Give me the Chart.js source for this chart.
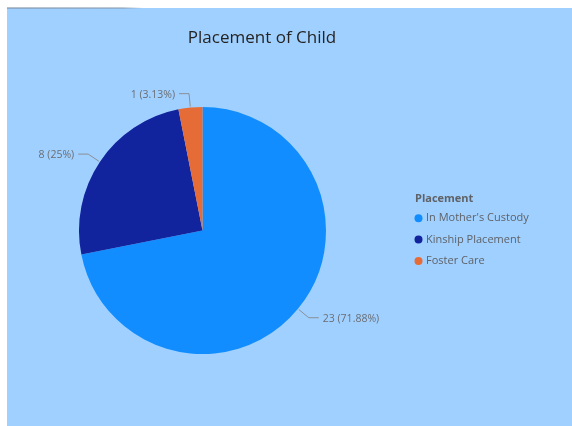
<!DOCTYPE html>
<html>
<head>
<meta charset="utf-8">
<script src="https://cdn.jsdelivr.net/npm/chart.js@4.4.1/dist/chart.umd.min.js"></script>
<style>
  html, body { margin: 0; padding: 0; background: #ffffff; }
  #panel {
    position: absolute; left: 7px; top: 8px; width: 565px; height: 418px;
    background: #a0d0ff;
  }
  #shade {
    position: absolute; left: 7px; top: 7px; width: 136px; height: 2px;
    background: linear-gradient(to right, rgba(120,140,160,0.55), rgba(120,140,160,0.45) 85%, rgba(120,140,160,0));
  }
  #placementChart { position: absolute; left: 0; top: 0; }
</style>
</head>
<body>
<div id="panel">
  <canvas id="placementChart" width="565" height="418"></canvas>
</div>
<div id="shade"></div>
<script>
// Chart data
const categories = ["In Mother's Custody", 'Kinship Placement', 'Foster Care'];
const counts = [23, 8, 1];
const sliceColors = ['#118dff', '#12239e', '#e66c37'];
const chartTitle = 'Placement of Child';
const legendTitle = 'Placement';

const fontFamily = '"Open Sans", "Noto Sans", sans-serif';

// Format like "23 (71.88%)"
function labelText(value, total) {
    const pct = parseFloat((value / total * 100).toFixed(2));
    return value + ' (' + pct + '%)';
}

// Draws the title, the leader-line data labels and the right-hand legend
const powerBiDecor = {
    id: 'powerBiDecor',
    afterDatasetsDraw(chart) {
        const ctx = chart.ctx;
        const meta = chart.getDatasetMeta(0);
        const values = chart.data.datasets[0].data;
        const total = values.reduce((a, b) => a + b, 0);

        ctx.save();
        ctx.font = '10.5px ' + fontFamily;
        ctx.textBaseline = 'middle';
        meta.data.forEach((arc, i) => {
            const { x, y, startAngle, endAngle, outerRadius } =
                arc.getProps(['x', 'y', 'startAngle', 'endAngle', 'outerRadius'], true);
            const mid = (startAngle + endAngle) / 2;
            const cos = Math.cos(mid), sin = Math.sin(mid);
            const x0 = x + cos * (outerRadius + 1), y0 = y + sin * (outerRadius + 1);
            const x1 = x0 + cos * 13, y1 = y0 + sin * 13;
            const side = cos >= 0 ? 1 : -1;
            const x2 = x1 + side * 10;

            ctx.strokeStyle = '#8a8f96';
            ctx.lineWidth = 1;
            ctx.beginPath();
            ctx.moveTo(x0, y0);
            ctx.lineTo(x1, y1);
            ctx.lineTo(x2, y1);
            ctx.stroke();

            ctx.fillStyle = '#6b6e73';
            ctx.textAlign = side > 0 ? 'left' : 'right';
            ctx.fillText(labelText(values[i], total), x2 + side * 4, y1 + 1);
        });

        // chart title
        ctx.fillStyle = '#252423';
        ctx.font = '17px ' + fontFamily;
        ctx.textAlign = 'center';
        ctx.textBaseline = 'middle';
        ctx.fillText(chartTitle, 255, 30);

        // legend
        ctx.textAlign = 'left';
        ctx.fillStyle = '#5f6266';
        ctx.font = 'bold 11px ' + fontFamily;
        ctx.fillText(legendTitle, 408, 191);
        ctx.font = '11px ' + fontFamily;
        chart.data.labels.forEach((lab, i) => {
            const ly = 210.3 + i * 21.3;
            ctx.fillStyle = sliceColors[i];
            ctx.beginPath();
            ctx.arc(411.5, ly, 4, 0, Math.PI * 2);
            ctx.fill();
            ctx.fillStyle = '#5f6266';
            ctx.fillText(lab, 419, ly);
        });
        ctx.restore();
    }
};

const ctx = document.getElementById('placementChart').getContext('2d');
const placementChart = new Chart(ctx, {
    type: 'pie',
    data: {
        labels: categories,
        datasets: [{
            data: counts,
            backgroundColor: sliceColors,
            borderWidth: 0
        }]
    },
    options: {
        responsive: false,
        animation: false,
        events: [],
        devicePixelRatio: 1,
        layout: {
            padding: { left: 72, right: 246, top: 99, bottom: 72 }
        },
        plugins: {
            legend: { display: false },
            title: { display: false },
            tooltip: { enabled: false }
        }
    },
    plugins: [powerBiDecor]
});
</script>
</body>
</html>
